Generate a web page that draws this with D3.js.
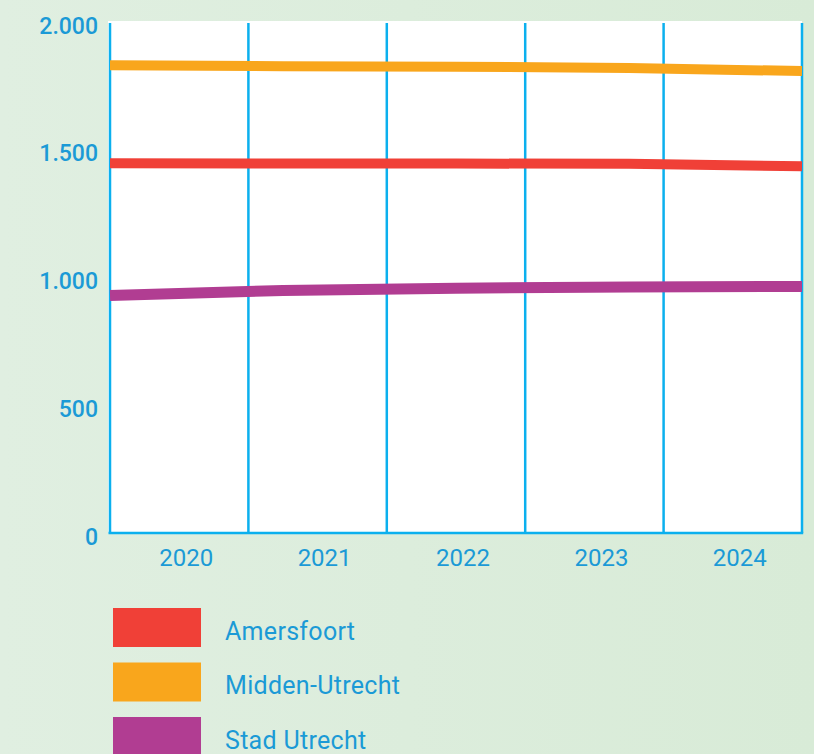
<!DOCTYPE html>
<html>
<head>
<meta charset="utf-8">
<script src="https://cdn.jsdelivr.net/npm/d3@7"></script>
<style>
  html, body { margin: 0; padding: 0; }
  body { width: 814px; height: 754px; overflow: hidden; }
  text { font-family: Roboto, "Noto Sans", sans-serif; fill: #1b9ad6; }
</style>
</head>
<body>
<div id="chart"></div>
<script>
const years = ["2020", "2021", "2022", "2023", "2024"]
const regions = ["Amersfoort", "Midden-Utrecht", "Stad Utrecht"]
const amersfoort = [1447, 1446, 1446, 1445, 1435]
const middenUtrecht = [1831, 1827, 1825, 1820, 1808]
const stadUtrecht = [930, 949, 958, 963, 965]
const yTicks = [0, 500, 1000, 1500, 2000]

const colors = {
    "Amersfoort": "#f04037",
    "Midden-Utrecht": "#f9a61c",
    "Stad Utrecht": "#b13d92",
}
const series = [
    { name: "Amersfoort", values: amersfoort },
    { name: "Midden-Utrecht", values: middenUtrecht },
    { name: "Stad Utrecht", values: stadUtrecht },
]

const width = 814
const height = 754
const plotLeft = 110, plotRight = 802, plotTop = 22, plotBottom = 533
const blue = "#0bb0ee"

const nl = d3.formatLocale({ decimal: ",", thousands: ".", grouping: [3], currency: ["€", ""] })

const svg = d3.select("#chart")
    .append("svg")
    .attr("width", width)
    .attr("height", height)

const grad = svg.append("defs").append("linearGradient")
    .attr("id", "bg").attr("x1", 0).attr("x2", 1).attr("y1", 0).attr("y2", 0)
grad.append("stop").attr("offset", "0%").attr("stop-color", "#e0efe1")
grad.append("stop").attr("offset", "100%").attr("stop-color", "#d8ebd7")

svg.append("rect").attr("width", width).attr("height", height).attr("fill", "url(#bg)")

const x = d3.scalePoint().domain(years).range([plotLeft, plotRight])
const xBand = d3.scaleBand().domain(years).range([plotLeft, plotRight])
const y = d3.scaleLinear().domain([0, 2000]).range([plotBottom, plotTop])

// plot area
svg.append("rect")
    .attr("x", plotLeft - 2).attr("y", plotTop - 1)
    .attr("width", plotRight - plotLeft + 2).attr("height", plotBottom - plotTop + 1)
    .attr("fill", "#fff")

// vertical grid lines at band edges
const edges = years.map(d => xBand(d)).concat([plotRight])
svg.selectAll(".grid")
    .data(edges)
    .enter()
    .append("line")
    .attr("x1", d => d).attr("x2", d => d)
    .attr("y1", plotTop + 1).attr("y2", plotBottom)
    .attr("stroke", blue)
    .attr("stroke-width", 2.5)

svg.append("line")
    .attr("x1", plotLeft - 1.5).attr("x2", plotRight + 1.2)
    .attr("y1", plotBottom).attr("y2", plotBottom)
    .attr("stroke", blue)
    .attr("stroke-width", 2.5)

// y axis labels
const yAxis = svg.append("g")
    .attr("transform", `translate(${plotLeft},0)`)
    .call(d3.axisLeft(y).tickValues(yTicks).tickSize(0).tickPadding(12).tickFormat(nl.format(",")))
yAxis.select(".domain").remove()
yAxis.selectAll("text")
    .attr("dy", null)
    .attr("y", 11)
    .style("font-size", "23px")
    .style("font-weight", 500)
    .attr("fill", "#1b9ad6")

// x axis labels
const xAxis = svg.append("g")
    .attr("transform", `translate(0,${plotBottom})`)
    .call(d3.axisBottom(xBand).tickSize(0).tickPadding(0))
xAxis.select(".domain").remove()
xAxis.selectAll("text")
    .attr("dy", null)
    .attr("y", 33)
    .attr("x", 7)
    .style("font-size", "24px")
    .attr("fill", "#1b9ad6")

// lines
const line = d3.line()
    .x((d, i) => x(years[i]))
    .y(d => y(d))

svg.selectAll(".series")
    .data(series)
    .enter()
    .append("path")
    .attr("d", d => line(d.values))
    .attr("fill", "none")
    .attr("stroke", d => colors[d.name])
    .attr("stroke-width", d => d.name === "Stad Utrecht" ? 11 : 10)

// legend
const legend = svg.selectAll(".legend")
    .data(regions)
    .enter()
    .append("g")
    .attr("transform", (d, i) => `translate(113, ${608 + i * 54.5})`)

legend.append("rect")
    .attr("width", 88).attr("height", 39)
    .attr("fill", d => colors[d])

legend.append("text")
    .attr("x", 112).attr("y", 31.5)
    .style("font-size", "25px")
    .style("letter-spacing", "0.3px")
    .text(d => d)
</script>
</body>
</html>
